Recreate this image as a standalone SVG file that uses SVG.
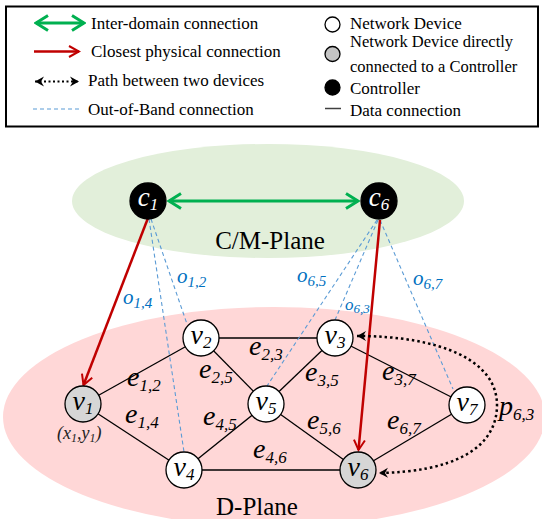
<svg xmlns="http://www.w3.org/2000/svg" width="542" height="519" viewBox="0 0 542 519" font-family="'Liberation Serif', 'Times New Roman', Times, 'DejaVu Serif', serif">
<style>
text, tspan {font-family: "Liberation Serif", "Times New Roman", Times, "DejaVu Serif", serif;}
.lg{font-size:17px;fill:#000;}
.lg2{font-size:16.5px;fill:#000;}
.nl{font-size:28px;font-style:italic;fill:#000;text-anchor:middle;}
.cl{font-size:27px;font-style:italic;fill:#fff;text-anchor:middle;}
.el{font-size:28px;font-style:italic;fill:#000;}
.ol{font-size:21px;font-style:italic;fill:#0070c0;}
.sub{font-size:17px;}
.osub{font-size:15px;}
.edge{stroke:#000;stroke-width:1.3;fill:none;}
.oob{stroke:#5b9bd5;stroke-width:1.1;stroke-dasharray:4 3;fill:none;}
.red{stroke:#c00000;stroke-width:2.5;fill:none;}
.green{stroke:#00b050;stroke-width:3;fill:none;}
.dot{stroke:#000;stroke-width:2.5;stroke-dasharray:2.5 3;fill:none;}
.node{fill:#fff;stroke:#000;stroke-width:1.3;}
.gnode{fill:#d6d6d6;stroke:#000;stroke-width:1.3;}
.cnode{fill:#000;stroke:#000;stroke-width:1.3;}
.plane{font-size:25px;fill:#000;text-anchor:middle;}
</style>
<defs>
<marker id="ag" viewBox="-14 -9 16 18" refX="0" refY="0" markerWidth="16" markerHeight="18" markerUnits="userSpaceOnUse" orient="auto-start-reverse">
<path d="M-12,-7.5 L0,0 L-12,7.5" fill="none" stroke="#00b050" stroke-width="3"/>
</marker>
<marker id="ar" viewBox="-12 -7 14 14" refX="0" refY="0" markerWidth="14" markerHeight="14" markerUnits="userSpaceOnUse" orient="auto">
<path d="M-10,-5.5 L0,0 L-10,5.5" fill="none" stroke="#c00000" stroke-width="2"/>
</marker>
<marker id="ak" viewBox="-11 -6 12 12" refX="0" refY="0" markerWidth="12" markerHeight="12" markerUnits="userSpaceOnUse" orient="auto-start-reverse">
<path d="M0,0 L-9,-5 L-6,0 L-9,5 Z" fill="#000"/>
</marker>
</defs>
<rect width="542" height="519" fill="#fff"/>

<g id="legend">
<rect x="6" y="6.5" width="532" height="120" fill="none" stroke="#000" stroke-width="2"/>
<line x1="36" y1="23" x2="84" y2="23" class="green" marker-start="url(#ag)" marker-end="url(#ag)"/>
<text x="91" y="29" class="lg">Inter-domain connection</text>
<line x1="34" y1="51.5" x2="79" y2="51.5" class="red" marker-end="url(#ar)"/>
<text x="91" y="57" class="lg">Closest physical connection</text>
<line x1="35" y1="81.5" x2="79" y2="81.5" stroke="#000" stroke-width="2" stroke-dasharray="2 2.5" marker-start="url(#ak)" marker-end="url(#ak)"/>
<text x="88" y="86" class="lg">Path between two devices</text>
<line x1="33" y1="109" x2="80" y2="109" class="oob"/>
<text x="88" y="115" class="lg">Out-of-Band connection</text>
<circle cx="332.5" cy="24.5" r="7.5" class="node"/>
<text x="350" y="28.5" class="lg">Network Device</text>
<circle cx="332.5" cy="54" r="7.5" fill="#c4c4c4" stroke="#000" stroke-width="1.3"/>
<text x="350" y="47" class="lg2">Network Device directly</text>
<text x="350" y="71.5" class="lg2">connected to a Controller</text>
<circle cx="332.5" cy="87.5" r="7.5" class="cnode"/>
<text x="350" y="94" class="lg">Controller</text>
<line x1="325" y1="108.5" x2="341" y2="108.5" stroke="#404040" stroke-width="1.5"/>
<text x="350" y="115.5" class="lg">Data connection</text>
</g>

<g id="planes">
<ellipse cx="268" cy="201" rx="196" ry="57" fill="#e2efda"/>
<ellipse cx="274" cy="417" rx="271" ry="110" fill="#ffd7d7"/>
<text x="270" y="249" class="plane">C/M-Plane</text>
<text x="257" y="515" class="plane">D-Plane</text>
</g>

<g id="connectors">
<line x1="83" y1="404" x2="201" y2="338" class="edge"/>
<line x1="83" y1="404" x2="184" y2="470" class="edge"/>
<line x1="201" y1="338" x2="335" y2="338" class="edge"/>
<line x1="201" y1="338" x2="266" y2="404" class="edge"/>
<line x1="335" y1="338" x2="266" y2="404" class="edge"/>
<line x1="335" y1="338" x2="467" y2="405" class="edge"/>
<line x1="184" y1="470" x2="266" y2="404" class="edge"/>
<line x1="184" y1="470" x2="358" y2="470" class="edge"/>
<line x1="266" y1="404" x2="358" y2="470" class="edge"/>
<line x1="358" y1="470" x2="467" y2="405" class="edge"/>

<line x1="151" y1="219" x2="187" y2="324" class="oob"/>
<line x1="149" y1="219" x2="184" y2="452" class="oob"/>
<line x1="377" y1="220" x2="267" y2="386" class="oob"/>
<line x1="378" y1="220" x2="335" y2="320" class="oob"/>
<line x1="380" y1="220" x2="453" y2="389" class="oob"/>

<line x1="148" y1="218" x2="83.5" y2="385" class="red" marker-end="url(#ar)"/>
<line x1="380" y1="220" x2="358.5" y2="450" class="red" marker-end="url(#ar)"/>

<line x1="169" y1="201" x2="358" y2="201" class="green" marker-start="url(#ag)" marker-end="url(#ag)"/>

<path d="M357,336 C440,336 497,360 497,405 C497,450 450,472 379,473" class="dot" marker-start="url(#ak)" marker-end="url(#ak)"/>
</g>

<g id="labels">
<text x="177" y="283" class="ol">o<tspan class="osub" dy="4">1,2</tspan></text>
<text x="123" y="304" class="ol">o<tspan class="osub" dy="4">1,4</tspan></text>
<text x="297" y="282" class="ol">o<tspan class="osub" dy="4">6,5</tspan></text>
<text x="345" y="310" class="ol" style="font-size:17px">o<tspan style="font-size:13px" dy="3">6,3</tspan></text>
<text x="413" y="285" class="ol">o<tspan class="osub" dy="4">6,7</tspan></text>

<text x="127" y="386" class="el">e<tspan class="sub" dy="5">1,2</tspan></text>
<text x="125" y="423" class="el">e<tspan class="sub" dy="5">1,4</tspan></text>
<text x="199" y="378" class="el">e<tspan class="sub" dy="5">2,5</tspan></text>
<text x="203" y="425" class="el">e<tspan class="sub" dy="5">4,5</tspan></text>
<text x="249" y="355" class="el">e<tspan class="sub" dy="5">2,3</tspan></text>
<text x="253" y="458" class="el">e<tspan class="sub" dy="5">4,6</tspan></text>
<text x="305" y="381" class="el">e<tspan class="sub" dy="5">3,5</tspan></text>
<text x="382" y="380" class="el">e<tspan class="sub" dy="5">3,7</tspan></text>
<text x="307" y="429" class="el">e<tspan class="sub" dy="5">5,6</tspan></text>
<text x="387" y="429" class="el">e<tspan class="sub" dy="5">6,7</tspan></text>
<text x="499" y="415" class="el">p<tspan class="sub" dy="5">6,3</tspan></text>
<text x="57" y="439" style="font-size:18px;font-style:italic;fill:#222">(x<tspan style="font-size:12px" dy="3">1</tspan><tspan dy="-3">,y</tspan><tspan style="font-size:12px" dy="3">1</tspan><tspan dy="-3">)</tspan></text>
</g>

<g id="c1"><circle cx="148" cy="201" r="18" class="cnode"/><text x="148" y="206" class="cl">c<tspan class="sub" dy="4">1</tspan></text></g>
<g id="c6"><circle cx="379" cy="201" r="18" class="cnode"/><text x="379" y="206" class="cl">c<tspan class="sub" dy="4">6</tspan></text></g>
<g id="v1"><circle cx="83" cy="404" r="18" class="gnode"/><text x="83" y="410" class="nl">v<tspan class="sub" dy="4">1</tspan></text></g>
<g id="v2"><circle cx="201" cy="338" r="18" class="node"/><text x="201" y="344" class="nl">v<tspan class="sub" dy="4">2</tspan></text></g>
<g id="v3"><circle cx="335" cy="338" r="18" class="node"/><text x="335" y="344" class="nl">v<tspan class="sub" dy="4">3</tspan></text></g>
<g id="v4"><circle cx="184" cy="470" r="18" class="node"/><text x="184" y="476" class="nl">v<tspan class="sub" dy="4">4</tspan></text></g>
<g id="v5"><circle cx="266" cy="404" r="18" class="node"/><text x="266" y="410" class="nl">v<tspan class="sub" dy="4">5</tspan></text></g>
<g id="v6"><circle cx="358" cy="470" r="18" class="gnode"/><text x="358" y="476" class="nl">v<tspan class="sub" dy="4">6</tspan></text></g>
<g id="v7"><circle cx="467" cy="405" r="18" class="node"/><text x="467" y="411" class="nl">v<tspan class="sub" dy="4">7</tspan></text></g>
</svg>
